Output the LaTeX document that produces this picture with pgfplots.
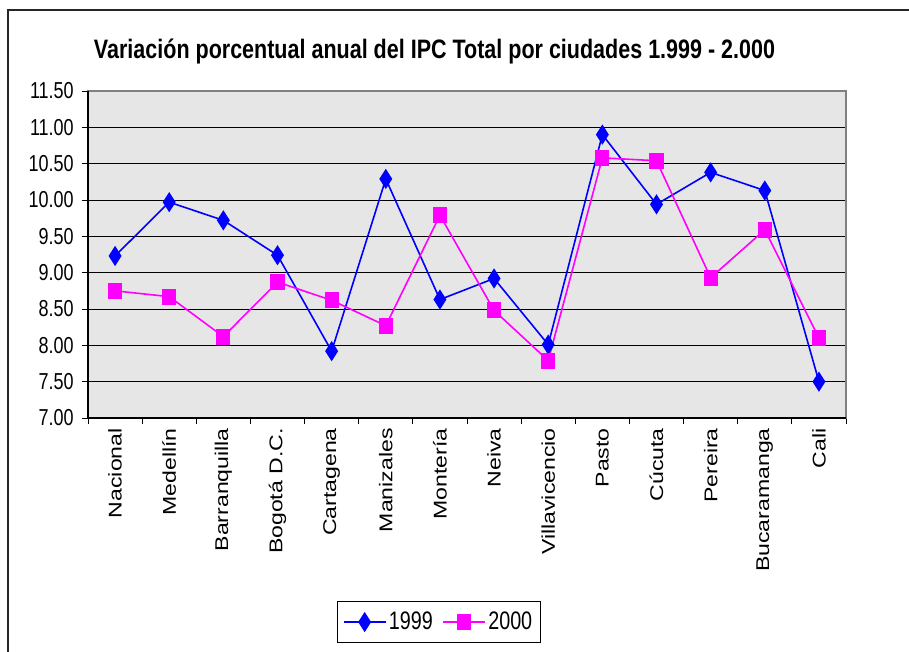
\documentclass[border=0pt]{standalone}
\usepackage{pgfplots}
\pgfplotsset{compat=1.18}
\usepackage{fontspec}
\setmainfont{Liberation Sans}
\usepackage{graphicx}
\newcommand\sx[1]{\scalebox{0.78}[1]{#1}}
\newcommand\sy[1]{\scalebox{1}[0.8]{#1}}
\definecolor{bgc}{RGB}{230,230,230}
\definecolor{mblue}{RGB}{0,0,255}
\definecolor{mmag}{RGB}{255,0,255}
\begin{document}
\begin{tikzpicture}[x=0.75pt,y=0.75pt]
\useasboundingbox (0,0) rectangle (909,652);
\fill[white] (0,0) rectangle (909,652);
\draw[line width=1pt,black!85] (8,-10) -- (8,642) -- (920,642);
\node[anchor=base,inner sep=0pt] at (434.5,593.7)
  {\fontsize{20}{22}\selectfont\bfseries\resizebox{510.75pt}{\height}{Variación porcentual anual del IPC Total por ciudades 1.999 - 2.000}};
\begin{axis}[
  at={(66pt,175.5pt)}, anchor=south west,
  scale only axis, width=568.5pt, height=245.25pt,
  xmin=-0.5, xmax=13.5, ymin=7, ymax=11.5,
  axis background/.style={fill=bgc},
  axis line style={draw=gray, line width=0.8pt},
  clip=false,
  tick align=outside,
  tick pos=left,
  major tick length=4.5pt,
  tick style={black, line width=0.6pt},
  xtick={0,...,13},
  major x tick style={draw=none},
  minor xtick={-0.5,0.5,...,13.5},
  minor tick length=4.5pt,
  xticklabels={\sy{Nacional},\sy{Medellín},\sy{Barranquilla},\sy{Bogotá D.C.},\sy{Cartagena},\sy{Manizales},\sy{Montería},\sy{Neiva},\sy{Villavicencio},\sy{Pasto},\sy{Cúcuta},\sy{Pereira},\sy{Bucaramanga},\sy{Cali}},
  xticklabel style={rotate=90, anchor=east, font=\fontsize{17.3}{19}\selectfont, inner sep=2pt, xshift=-1pt},
  ytick={7,7.5,...,11.5},
  yticklabels={\sx{7.00},\sx{7.50},\sx{8.00},\sx{8.50},\sx{9.00},\sx{9.50},\sx{10.00},\sx{10.50},\sx{11.00},\sx{11.50}},
  yticklabel style={font=\fontsize{17.3}{19}\selectfont, inner sep=2pt, xshift=-4pt},
  ymajorgrids,
  grid style={black, line width=0.6pt},
  legend columns=2,
  legend style={at={(0.463,-0.624)}, anchor=center, draw=black, line width=0.8pt,
    font=\fontsize{19}{21}\selectfont, inner xsep=4pt, inner ysep=6pt,
    /tikz/every even column/.append style={column sep=5pt}},
  legend image code/.code={\draw[mark repeat=2,mark phase=2] plot coordinates {(0cm,0cm)(0.55cm,0cm)(1.1cm,0cm)};},
]
\draw[black, line width=0.8pt] (rel axis cs:0,1) -- (rel axis cs:0,0) -- (rel axis cs:1,0);
\addplot[color=mblue, line width=1.2pt, mark=diamond*, mark size=6.5pt, mark options={xscale=0.85, solid, fill=mblue}]
  coordinates {(0,9.23)(1,9.97)(2,9.72)(3,9.24)(4,7.92)(5,10.29)(6,8.63)(7,8.92)(8,8.01)(9,10.90)(10,9.94)(11,10.38)(12,10.13)(13,7.50)};
\addlegendentry{\sx{1999}}
\addplot[color=mmag, line width=1.2pt, mark=square*, mark size=5.4pt, mark options={xscale=0.87, solid, fill=mmag}]
  coordinates {(0,8.75)(1,8.67)(2,8.12)(3,8.87)(4,8.62)(5,8.27)(6,9.79)(7,8.48)(8,7.79)(9,10.58)(10,10.54)(11,8.93)(12,9.59)(13,8.10)};
\addlegendentry{\sx{2000}}
\end{axis}
\end{tikzpicture}
\end{document}
